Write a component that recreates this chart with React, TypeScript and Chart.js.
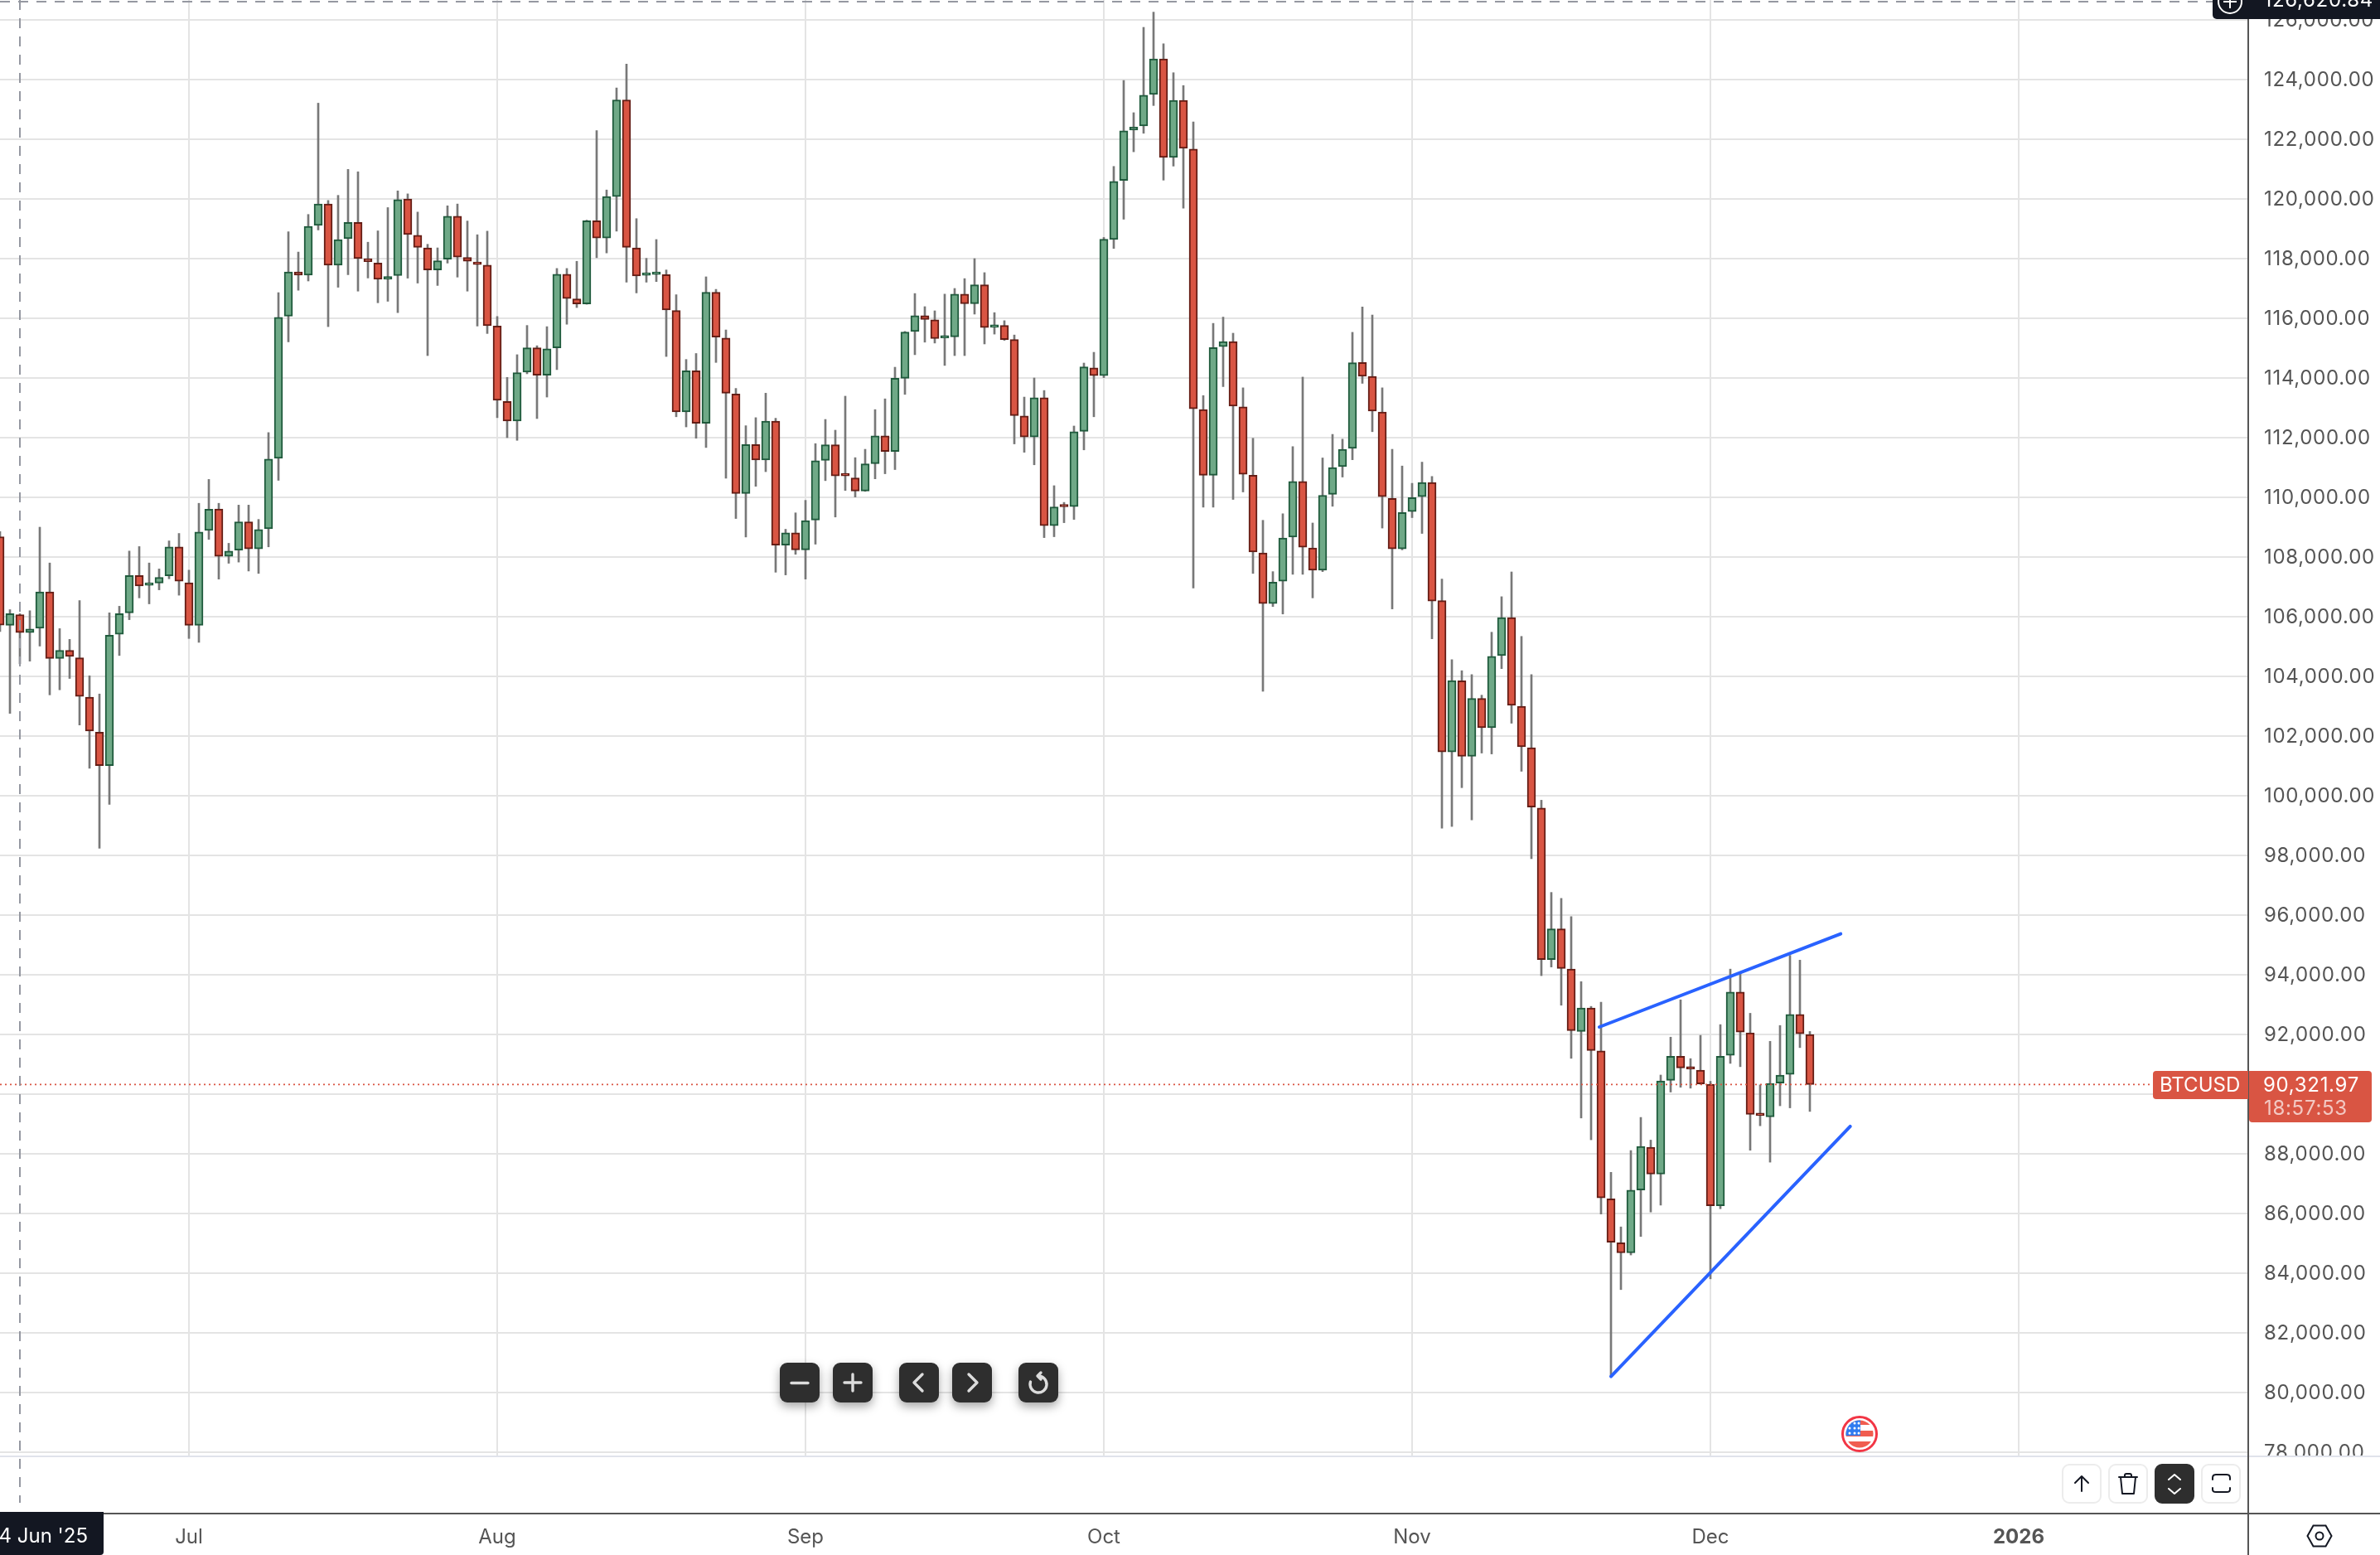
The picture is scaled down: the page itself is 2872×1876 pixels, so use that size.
import React, { useEffect, useRef } from "react";
import { Chart, registerables } from "chart.js";

Chart.register(...registerables);

const opens = [
  108680,105710,106070,105470,105610,106830,104600,104870,104620,103300,
  102130,101010,105410,106130,107380,107050,107130,107370,108340,107140,
  105710,108890,109610,108020,108230,109180,108270,108950,111310,116070,
  117550,117450,119110,119830,117780,118670,119210,118000,117850,117310,
  117430,120000,118780,118360,117620,117980,119420,118040,117890,117780,
  115740,113210,112560,114200,115010,114090,115010,117480,116650,116480,
  119270,118690,120080,123320,118360,117440,117470,117460,116260,112860,
  114240,112480,116870,115340,113460,110130,111770,111250,112550,108400,
  108810,108240,109240,111240,111760,110740,110650,110210,111130,112060,
  111540,113990,115560,116090,115950,115340,115380,116810,116490,117120,
  115700,115760,115290,112730,112020,113340,109050,109700,109690,112210,
  114340,114080,118640,120620,122310,122450,123500,124690,121390,123300,
  121670,112940,110740,115050,115220,113030,110740,108140,106440,107190,
  108670,110530,108300,107560,110100,111030,111640,114520,114050,112860,
  109960,108270,109520,110020,110500,106540,101470,103850,101320,103260,
  102280,104700,105970,103000,101610,99590,94510,95540,94190,92100,
  92890,91450,86490,85020,84680,86790,88220,87320,90460,91270,
  90860,90800,90330,86260,91300,93420,92050,89300,89240,90370,
  90660,92670,92000,
];

const highs = [
  108850,106235,106100,106200,109000,107800,105600,105240,106540,104020,
  103410,106130,106350,108200,108350,107800,107600,108540,108790,107560,
  109800,110600,109800,108460,109740,109740,109260,112170,116860,118900,
  118220,119480,123210,119950,120120,120990,120910,118550,118930,119710,
  120270,120170,119560,118480,118360,119770,119830,119260,118800,118920,
  116060,114020,114780,115760,115080,115720,117670,117670,117910,119290,
  122290,120300,123720,124520,119340,118010,118640,117620,116790,114620,
  114820,117390,116970,115610,113650,112400,112670,113490,112650,108930,
  109480,109900,111800,112610,112250,113390,111330,111610,112940,113300,
  114360,115560,116830,116390,116250,116810,117000,117330,118000,117530,
  116190,115920,115440,113360,114000,113580,110390,109830,112390,114500,
  114860,118710,121090,123970,122890,125750,126260,125200,124230,123800,
  122580,113410,115830,116040,115500,113670,111980,109230,107510,109450,
  111700,114030,109140,111320,112110,111950,115530,116380,116110,113670,
  111610,111050,110470,111180,110700,107260,104560,104190,104060,103370,
  105480,106670,107500,105340,104060,99850,96760,96560,95950,93770,
  92940,93080,87380,85550,88110,89220,88460,90640,91910,93160,
  91190,91970,90430,92330,94190,94080,92710,90310,91770,92300,
  94650,94490,92100,
];

const lows = [
  105500,102760,104420,104510,105015,103380,103550,103930,102370,100920,
  98240,99710,104700,105900,106630,106430,106900,107270,106720,105270,
  105140,108590,107260,107790,107830,107530,107450,108340,110570,115210,
  116940,117250,118960,115720,117040,117460,116910,117350,116520,116570,
  116190,117345,117180,114750,117100,117850,117380,116910,115740,115490,
  112670,112000,111910,114140,112640,113360,114280,115800,116360,116470,
  118030,118190,118920,117210,116850,117210,117230,114720,112700,112360,
  111980,111670,114520,110640,109290,108670,110370,110860,107490,107400,
  108090,107260,108430,110560,109340,110230,110010,110200,110620,110790,
  110930,113450,114780,115200,115170,114420,114750,114750,116140,115140,
  115470,115260,111790,111510,111090,108650,108680,109150,109260,111590,
  112700,114010,118340,119320,121580,122200,123130,120630,121100,119690,
  106960,109670,109670,113710,109930,110180,107450,103500,106340,106090,
  107420,107420,106630,107510,109700,110680,111260,113820,112200,108970,
  106260,108240,109320,108790,105260,98910,98970,100270,99190,101430,
  101400,104260,102430,100820,97890,93970,94260,92980,91200,89200,
  88470,85980,80540,83450,84610,85230,86050,86280,90070,90230,
  90200,90330,83810,86160,91030,90920,88120,88940,87720,89610,
  89540,91560,89420,
];

const closes = [
  105720,106100,105470,105590,106830,104600,104870,104670,103330,102170,
  101010,105380,106100,107380,107030,107080,107320,108340,107190,105710,
  108840,109600,108020,108200,109180,108270,108920,111280,116030,117550,
  117450,119080,119830,117780,118640,119210,118000,117900,117310,117400,
  119980,118810,118380,117620,117930,119420,118050,117910,117800,115750,
  113250,112560,114180,115010,114090,114980,117480,116660,116480,119270,
  118690,120080,123320,118380,117420,117460,117490,116280,112860,114240,
  112480,116870,115370,113490,110130,111770,111250,112550,108400,108810,
  108240,109220,111230,111760,110720,110720,110210,111120,112060,111540,
  113990,115540,116090,115960,115320,115370,116810,116490,117120,115690,
  115740,115290,112740,112020,113340,109050,109680,109680,112200,114370,
  114080,118650,120590,122280,122410,123480,124690,121390,123300,121700,
  112970,110740,115020,115220,113060,110770,108170,106440,107160,108640,
  110530,108330,107560,110070,111000,111610,114510,114060,112890,110020,
  108270,109490,109990,110500,106520,101470,103860,101320,103260,102280,
  104670,105970,103030,101640,99620,94510,95540,94210,92130,92890,
  91460,86520,85040,84680,86780,88250,87320,90440,91270,90880,
  90840,90340,86260,91270,93420,92080,89320,89280,90360,90640,
  92670,92020,90321.97,
];

const monthTicks = [19, 50, 81, 111, 142, 172, 203];
const monthLabels = ["Jul", "Aug", "Sep", "Oct", "Nov", "Dec", "2026"];
const priceTicks = [
  78000, 80000, 82000, 84000, 86000, 88000, 90000, 92000, 94000, 96000, 98000, 100000, 102000,
  104000, 106000, 108000, 110000, 112000, 114000, 116000, 118000, 120000, 122000, 124000, 126000,
];
const upperTrendX = [160.83, 185.1];
const upperTrendY = [92250, 95370];
const lowerTrendX = [162, 186.06];
const lowerTrendY = [80540, 88920];

const symbolName = "BTCUSD";
const lastPrice = "90,321.97";
const countdown = "18:57:53";
const crosshairPrice = "126,620.84";
const crosshairDate = "14 Jun '25";

const AXIS_X = 2713;
const PANE_BOTTOM = 1756;
const TIME_LINE_Y = 1825;
const FONT = "Inter, 'Noto Sans', sans-serif";
const NUMBER_SPACING = "0.7px";
const GREEN_FILL = "#6fa987";
const GREEN_EDGE = "#1f5a3c";
const RED_FILL = "#d95543";
const RED_EDGE = "#641d15";
const INK = "#131722";
const GRID = "#e4e4e4";

function roundedBox(ctx: CanvasRenderingContext2D, x: number, y: number, w: number, h: number, r: number[]) {
  ctx.beginPath();
  ctx.roundRect(x, y, w, h, r);
  ctx.fill();
}

const overlayPlugin = {
  id: "overlay",
  beforeDraw(chart: any) {
    const scale = chart.scales.y;
    if (!scale.__spaced) {
      scale.__spaced = true;
      const original = scale.drawLabels;
      scale.drawLabels = function (area: any) {
        (chart.ctx as any).letterSpacing = NUMBER_SPACING;
        original.call(this, area);
        (chart.ctx as any).letterSpacing = "0px";
      };
    }
  },
  afterDraw(chart: any) {
    const ctx: any = chart.ctx;
    ctx.save();

    // strip between the pane and the time axis
    ctx.fillStyle = "#ffffff";
    ctx.fillRect(0, PANE_BOTTOM + 1, 2872, TIME_LINE_Y - PANE_BOTTOM - 1);
    ctx.fillStyle = "#e0e3eb";
    ctx.fillRect(0, PANE_BOTTOM, 2872, 2);

    // crosshair
    ctx.strokeStyle = "#9598a1";
    ctx.lineWidth = 2;
    ctx.setLineDash([12, 10]);
    ctx.beginPath();
    ctx.moveTo(24, 0);
    ctx.lineTo(24, 1813);
    ctx.moveTo(0, 2);
    ctx.lineTo(2672, 2);
    ctx.stroke();
    ctx.setLineDash([]);

    // axis frame
    ctx.fillStyle = "#555555";
    ctx.fillRect(0, TIME_LINE_Y, 2872, 2);
    ctx.fillRect(AXIS_X - 1, 0, 2, 1876);

    ctx.textBaseline = "alphabetic";
    ctx.font = `24px ${FONT}`;

    // last price tag
    ctx.fillStyle = RED_FILL;
    roundedBox(ctx, 2598, 1292, 115, 34, [4, 0, 0, 4]);
    roundedBox(ctx, 2714, 1292, 148, 62, [0, 4, 4, 4]);
    ctx.fillStyle = "#ffffff";
    ctx.textAlign = "left";
    ctx.fillText(symbolName, 2606, 1317);
    ctx.letterSpacing = NUMBER_SPACING;
    ctx.fillText(lastPrice, 2731, 1317);
    ctx.fillStyle = "rgba(255,255,255,0.68)";
    ctx.fillText(countdown, 2732, 1345);

    // crosshair price tag
    ctx.fillStyle = INK;
    roundedBox(ctx, 2670, 0, 202, 23, [0, 0, 0, 5]);
    ctx.fillStyle = "#ffffff";
    ctx.textAlign = "right";
    ctx.fillText(crosshairPrice, 2864, 8);
    ctx.letterSpacing = "0px";
    ctx.strokeStyle = "#ffffff";
    ctx.lineWidth = 2;
    ctx.beginPath();
    ctx.arc(2691, 2, 14, 0, Math.PI * 2);
    ctx.moveTo(2691, -6);
    ctx.lineTo(2691, 10);
    ctx.moveTo(2683, 2);
    ctx.lineTo(2699, 2);
    ctx.stroke();

    // crosshair date tag
    ctx.fillStyle = INK;
    roundedBox(ctx, -6, 1824, 131, 52, [0, 0, 4, 0]);
    ctx.fillStyle = "#ffffff";
    ctx.fillText(crosshairDate, 106, 1861);

    ctx.restore();
  },
};

const btn = { fill: "#2e2e2e", stroke: "#dcdcdc" };

function DarkButton({ x, children }: { x: number; children: React.ReactNode }) {
  return (
    <g>
      <rect x={x} y={1644} width={48} height={48} rx={9} fill={btn.fill} style={{ filter: "drop-shadow(0 5px 6px rgba(0,0,0,0.35))" }} />
      <g fill="none" stroke={btn.stroke} strokeWidth={3.4} strokeLinecap="round" strokeLinejoin="round">{children}</g>
    </g>
  );
}

function LightButton({ x, dark, children }: { x: number; dark?: boolean; children: React.ReactNode }) {
  return (
    <g>
      <rect x={x + 1} y={1767} width={46} height={46} rx={8} fill={dark ? "#2e2e2e" : "#ffffff"} stroke={dark ? "#2e2e2e" : "#ececec"} strokeWidth={2} />
      <g fill="none" stroke={dark ? "#ffffff" : "#131722"} strokeWidth={2} strokeLinecap="round" strokeLinejoin="round">{children}</g>
    </g>
  );
}

function Overlay() {
  return (
    <svg width={2872} height={1876} style={{ position: "absolute", left: 0, top: 0, pointerEvents: "none" }}>
      <DarkButton x={941}><path d="M955 1668.5H975" /></DarkButton>
      <DarkButton x={1005}><path d="M1019 1668H1039M1029 1658V1678" /></DarkButton>
      <DarkButton x={1085}><path d="M1113 1658L1103 1668L1113 1678" /></DarkButton>
      <DarkButton x={1149}><path d="M1169 1658L1179 1668L1169 1678" /></DarkButton>
      <DarkButton x={1229}><path d="M1253 1660A10 10 0 1 1 1243.5 1667M1256 1656L1252 1660L1256 1664" /></DarkButton>

      <defs><clipPath id="flag"><circle cx={2244} cy={1730} r={16.5} /></clipPath></defs>
      <circle cx={2244} cy={1730} r={20.5} fill="#fff" stroke="#f23645" strokeWidth={3} />
      <g clipPath="url(#flag)">
        <rect x={2226} y={1713} width={36} height={6} fill="#f05d50" />
        <rect x={2226} y={1726} width={36} height={7} fill="#f05d50" />
        <rect x={2226} y={1739} width={36} height={9} fill="#f05d50" />
        <rect x={2226} y={1712} width={19} height={20} fill="#2f7bf0" />
        {[1717, 1723, 1729].map((cy) =>
          [2232, 2238, 2243].map((cx) => <circle key={`${cx}-${cy}`} cx={cx} cy={cy} r={1.5} fill="#fff" />)
        )}
      </g>

      <LightButton x={2488}><path d="M2512 1799V1781M2504 1789L2512 1781L2520 1789" /></LightButton>
      <LightButton x={2544}><path d="M2557 1782H2579M2564 1782V1780Q2564 1778 2566 1778H2570Q2572 1778 2572 1780V1782M2559 1782L2561 1802H2575L2577 1782" /></LightButton>
      <LightButton x={2600} dark><path d="M2617 1785L2624 1779L2631 1785M2617 1796L2624 1802L2631 1796" /></LightButton>
      <LightButton x={2656}><path d="M2670 1785V1783Q2670 1779 2674 1779H2687Q2691 1779 2691 1783V1785M2670 1795V1797Q2670 1800 2674 1800H2687Q2691 1800 2691 1797V1795" /></LightButton>

      <path d="M2791.5 1840.5H2806.5L2813.5 1853L2806.5 1865.5H2791.5L2784.5 1853Z" fill="none" stroke={INK} strokeWidth={2} />
      <circle cx={2799} cy={1853} r={4.5} fill="none" stroke={INK} strokeWidth={2} />
    </svg>
  );
}

export default function App() {
  const canvasRef = useRef<HTMLCanvasElement | null>(null);

  useEffect(() => {
    if (!canvasRef.current) return;
    const rising = closes.map((c, i) => c >= opens[i]);
    const last = closes[closes.length - 1];
    const chart = new Chart(canvasRef.current, {
      type: "bar",
      data: {
        datasets: [
          {
            type: "line",
            data: upperTrendX.map((x, i) => ({ x, y: upperTrendY[i] })),
            borderColor: "#2962ff",
            borderWidth: 4,
            pointRadius: 0,
            borderCapStyle: "round",
            order: 1,
          },
          {
            type: "line",
            data: lowerTrendX.map((x, i) => ({ x, y: lowerTrendY[i] })),
            borderColor: "#2962ff",
            borderWidth: 4,
            pointRadius: 0,
            borderCapStyle: "round",
            order: 1,
          },
          {
            type: "line",
            data: [{ x: 0, y: last }, { x: 226, y: last }],
            borderColor: RED_FILL,
            borderWidth: 1.6,
            borderDash: [2, 4],
            pointRadius: 0,
            order: 2,
          },
          {
            data: opens.map((o, i) => ({ x: i, y: [o, closes[i]] })),
            backgroundColor: rising.map((r) => (r ? GREEN_FILL : RED_FILL)),
            borderColor: rising.map((r) => (r ? GREEN_EDGE : RED_EDGE)),
            borderWidth: 2,
            borderSkipped: false,
            barThickness: 10,
            minBarLength: 3,
            grouped: false,
            order: 3,
          },
          {
            data: lows.map((l, i) => ({ x: i, y: [l, highs[i]] })),
            backgroundColor: "#787878",
            borderWidth: 0,
            barThickness: 2,
            grouped: false,
            order: 4,
          },
        ],
      } as any,
      options: {
        animation: false,
        responsive: false,
        events: [],
        layout: { padding: 0 },
        plugins: { legend: { display: false }, tooltip: { enabled: false } },
        scales: {
          x: {
            type: "linear",
            offset: false,
            min: 0,
            max: AXIS_X / 12,
            grid: { color: GRID, lineWidth: 2, drawTicks: false, offset: false },
            border: { display: false },
            afterBuildTicks: (s: any) => {
              s.ticks = monthTicks.map((value) => ({ value }));
            },
            afterFit: (s: any) => {
              s.height = 1876 - PANE_BOTTOM;
              s.paddingLeft = s.paddingRight = s.paddingTop = s.paddingBottom = 0;
            },
            ticks: {
              autoSkip: false,
              maxRotation: 0,
              padding: 84,
              color: "#555555",
              font: (c: any) => ({
                family: FONT,
                size: 24,
                weight: c.tick && c.tick.value === 203 ? "bold" : "normal",
              }),
              callback: (v: any) => monthLabels[monthTicks.indexOf(Number(v))] ?? "",
            },
          },
          y: {
            type: "linear",
            position: "right",
            min: 124000 - (PANE_BOTTOM - 96) / 0.036,
            max: 124000 + 96 / 0.036,
            grid: { color: GRID, lineWidth: 2, drawTicks: false },
            border: { display: false },
            afterBuildTicks: (s: any) => {
              s.ticks = priceTicks.map((value) => ({ value }));
            },
            afterFit: (s: any) => {
              s.width = 2872 - AXIS_X;
              s.paddingLeft = s.paddingRight = s.paddingTop = s.paddingBottom = 0;
            },
            ticks: {
              autoSkip: false,
              padding: 19,
              labelOffset: 1,
              color: "#555555",
              font: { family: FONT, size: 24 },
              callback: (v: any) =>
                Number(v).toLocaleString("en-US", { minimumFractionDigits: 2, maximumFractionDigits: 2 }),
            },
          },
        },
      },
      plugins: [overlayPlugin],
    } as any);
    return () => chart.destroy();
  }, []);

  return (
    <div style={{ position: "absolute", left: 0, top: 0, width: 2872, height: 1876, background: "#fff", overflow: "hidden" }}>
      <canvas ref={canvasRef} width={2872} height={1876} style={{ display: "block", width: 2872, height: 1876 }} />
      <Overlay />
    </div>
  );
}
